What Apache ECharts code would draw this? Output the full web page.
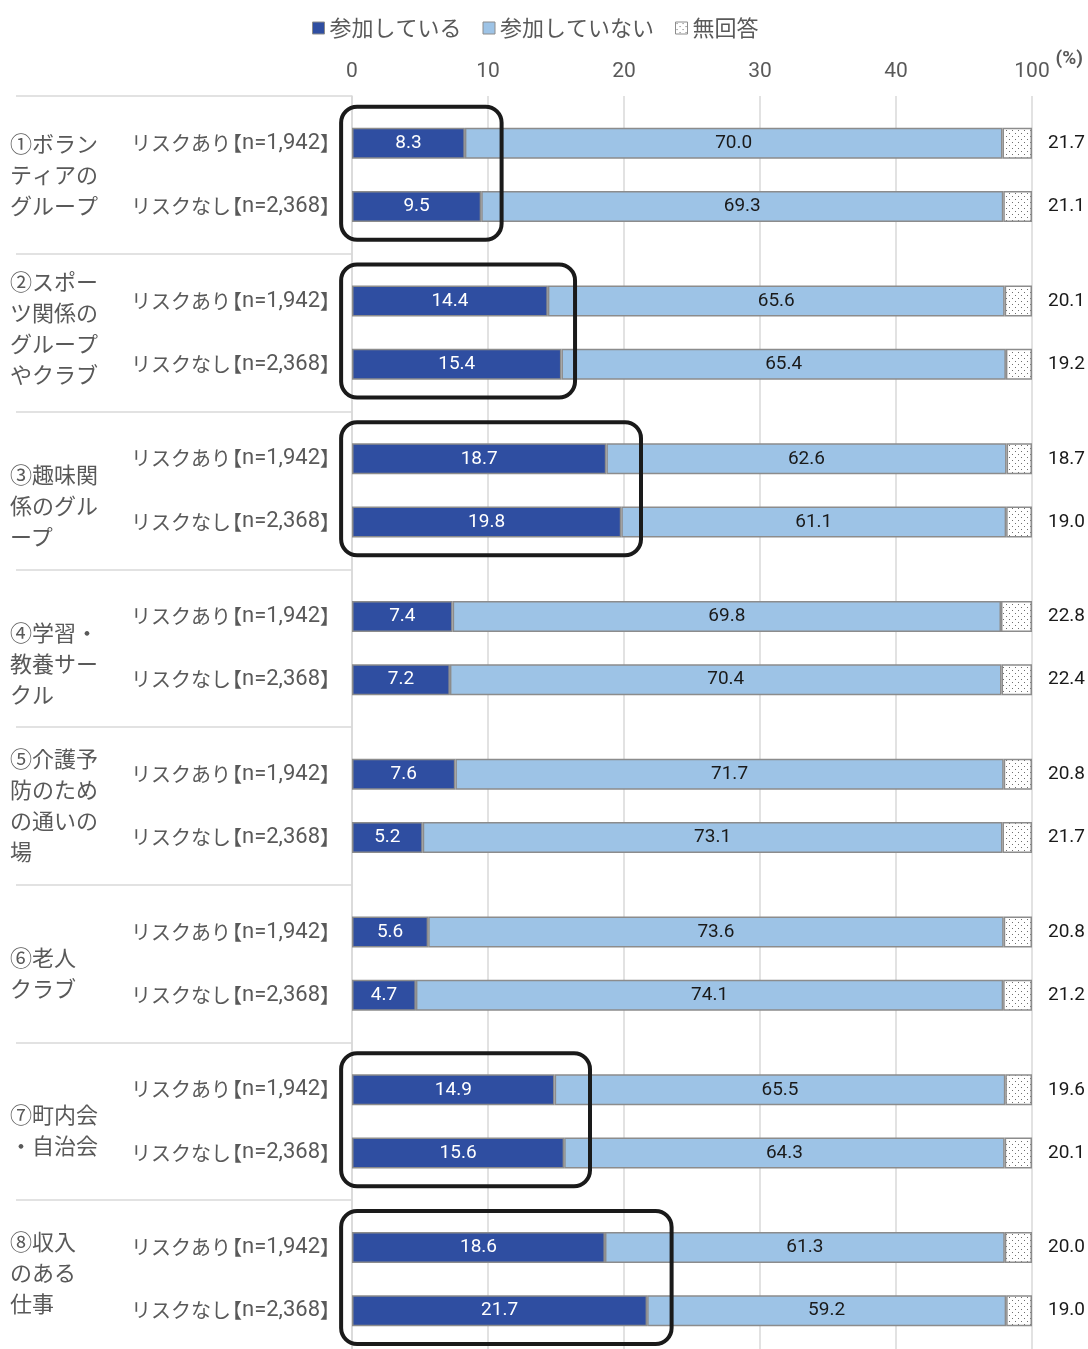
<!DOCTYPE html>
<html>
<head>
<meta charset="UTF-8">
<title>participation</title>
<script src="https://cdn.jsdelivr.net/npm/echarts@6/dist/echarts.min.js"></script>
<style>
	html, body { margin:0; padding:0; background:#fff; overflow:hidden; }
	#main { width:1088px; height:1362px; }
</style>
</head>
<body>
	<div id="main"></div>

	<script type="text/javascript">
		// 8 groups, each with two rows (リスクあり / リスクなし)
		var groupNames = [
			'①ボラン\nティアの\nグループ',
			'②スポー\nツ関係の\nグループ\nやクラブ',
			'③趣味関\n係のグル\nープ',
			'④学習・\n教養サー\nクル',
			'⑤介護予\n防のため\nの通いの\n場',
			'⑥老人\nクラブ',
			'⑦町内会\n・自治会',
			'⑧収入\nのある\n仕事'
		];
		var riskNames = ['リスクあり【n=1,942】', 'リスクなし【n=2,368】'];

		var joined    = [[8.3, 9.5], [14.4, 15.4], [18.7, 19.8], [7.4, 7.2], [7.6, 5.2], [5.6, 4.7], [14.9, 15.6], [18.6, 21.7]];
		var notJoined = [[70.0, 69.3], [65.6, 65.4], [62.6, 61.1], [69.8, 70.4], [71.7, 73.1], [73.6, 74.1], [65.5, 64.3], [61.3, 59.2]];
		var noAnswer  = [[21.7, 21.1], [20.1, 19.2], [18.7, 19.0], [22.8, 22.4], [20.8, 21.7], [20.8, 21.2], [19.6, 20.1], [20.0, 19.0]];

		var tickLabels = ['0', '10', '20', '30', '40', '100'];
		var boxedGroups = [0, 1, 2, 6, 7];

		var legendNames = ['参加している', '参加していない', '無回答'];

		window.onload = iniPage;

		function iniPage(){
			drawChart();
		}

		function dotPattern(){
			var c = document.createElement('canvas');
			c.width = 6; c.height = 6;
			var ctx = c.getContext('2d');
			ctx.fillStyle = '#ffffff';
			ctx.fillRect(0, 0, 6, 6);
			ctx.fillStyle = '#6e6e6e';
			ctx.fillRect(1, 1, 1, 1);
			ctx.fillRect(4, 4, 1, 1);
			return c;
		}

		function drawChart(){
			var myChart = echarts.init(document.getElementById('main'));

			// 5 slots per group: gap, row1, middle, row2, gap
			var cats = [], subLabel = {};
			var s1 = [], s2 = [], s3 = [];
			for(var g=0; g<groupNames.length; g++){
				for(var k=0; k<5; k++){
					var idx = g*5 + k;
					cats.push('c' + idx);
					var r = k === 1 ? 0 : (k === 3 ? 1 : -1);
					if(r >= 0){
						subLabel[idx] = riskNames[r];
						// the right part of the axis is compressed: 無回答 is drawn at 1/10
						var na = noAnswer[g][r] / 10;
						s1.push(joined[g][r]);
						s2.push({value: 50 - joined[g][r] - na, real: notJoined[g][r]});
						s3.push({value: na, real: noAnswer[g][r]});
					} else {
						s1.push('-'); s2.push('-'); s3.push('-');
					}
				}
			}

			// group names sit a little off the group centre in the original
			var nameNudge = [0, -0.03, 0.095, 0.1, -0.007, 0.06, 0.054, -0.038];
			var namePos = groupNames.map(function(n, g){ return g + 0.5 + nameNudge[g]; });

			// right edge of the hand drawn boxes (axis units)
			var boxEdge = [11.0, 16.4, 21.25, 17.5, 23.5];
			var boxes = boxedGroups.map(function(g, i){ return [boxEdge[i], g*5 + 1]; });

			var jp = '"Noto Sans CJK JP", sans-serif';
			var num = 'Roboto, "Liberation Sans", sans-serif';
			var border = {borderColor: '#8c8c8c', borderWidth: 1.5};

			var option = {
				backgroundColor: '#ffffff',
				animation: false,
				legend: {
					data: legendNames,
					top: 12,
					left: 307,
					itemWidth: 12,
					itemHeight: 12,
					itemGap: 21,
					icon: 'rect',
					itemStyle: {borderColor: '#8c8c8c', borderWidth: 1},
					textStyle: {fontFamily: jp, fontSize: 22, color: '#595959'}
				},
				grid: {left: 352, top: 96, width: 680, height: 1262},
				xAxis: {
					type: 'value',
					position: 'top',
					min: 0, max: 50, interval: 10,
					axisLine: {show: false},
					axisTick: {show: false},
					axisLabel: {
						margin: 14,
						fontFamily: num, fontSize: 21, color: '#595959',
						formatter: function(v){ return tickLabels[v/10]; }
					},
					splitLine: {show: true, lineStyle: {color: '#d9d9d9', width: 1.5}},
					name: '(%)',
					nameLocation: 'end',
					nameGap: 17,
					nameTextStyle: {fontFamily: num, fontSize: 19, fontWeight: 'bold', color: '#595959', verticalAlign: 'bottom', padding: [0, 0, 27, 0]}
				},
				yAxis: [{
					type: 'category',
					inverse: true,
					data: cats,
					axisLine: {show: true, lineStyle: {color: '#d9d9d9', width: 1.5}},
					axisTick: {show: true, length: 336, interval: function(i){ return i % 5 === 0; }, lineStyle: {color: '#d9d9d9', width: 1.5}},
					axisLabel: {
						interval: 0, margin: 221, align: 'left',
						color: '#595959',
						formatter: function(v, i){
							var s = subLabel[i];
							if(!s) return '';
							var m = s.match(/^(.*)【(.*)】$/);
							return '{t|' + m[1] + '}{lb|【}{n|' + m[2] + '}{rb|】}';
						},
						rich: {
							t:  {fontFamily: jp, fontSize: 20, color: '#595959', width: 91, align: 'left'},
							lb: {fontFamily: jp, fontSize: 20, color: '#595959', align: 'left'},
							n:  {fontFamily: num, fontSize: 22, color: '#595959', align: 'left'},
							rb: {fontFamily: jp, fontSize: 20, color: '#595959', width: 10, align: 'left'}
						}
					}
				}, {
					type: 'value',
					inverse: true,
					position: 'left',
					min: 0, max: 8,
					axisLine: {show: false},
					axisTick: {show: false},
					splitLine: {show: false},
					axisLabel: {
						customValues: namePos,
						margin: 342, align: 'left', lineHeight: 31,
						fontFamily: jp, fontSize: 22, color: '#595959',
						formatter: function(v){ return groupNames[Math.floor(v)] || ''; }
					}
				}],
				series: [{
					name: legendNames[0],
					type: 'bar',
					stack: 'all',
					barWidth: 31,
					data: s1,
					itemStyle: Object.assign({color: '#2f4ea1'}, border),
					label: {show: true, position: 'inside', color: '#ffffff', fontFamily: num, fontSize: 19,
						formatter: function(p){ return p.value.toFixed(1); }}
				}, {
					name: legendNames[1],
					type: 'bar',
					stack: 'all',
					barWidth: 31,
					data: s2,
					itemStyle: Object.assign({color: '#9dc3e6'}, border),
					label: {show: true, position: 'inside', color: '#1a1a1a', fontFamily: num, fontSize: 19,
						formatter: function(p){ return p.data.real.toFixed(1); }}
				}, {
					name: legendNames[2],
					type: 'bar',
					stack: 'all',
					barWidth: 31,
					data: s3,
					itemStyle: Object.assign({color: {image: dotPattern(), repeat: 'repeat'}}, border),
					label: {show: true, position: 'right', distance: 16, color: '#1a1a1a', fontFamily: num, fontSize: 19,
						formatter: function(p){ return p.data.real.toFixed(1); }}
				}, {
					type: 'custom',
					clip: false,
					silent: true,
					data: boxes,
					renderItem: function(params, api){
						var slot = api.size([0, 1])[1];
						var a = api.coord([-0.8, api.value(1)]);
						var b = api.coord([api.value(0), api.value(1) + 2]);
						return {
							type: 'rect',
							shape: {x: a[0], y: a[1] - slot*1.16, width: b[0] - a[0], height: b[1] - a[1] + slot*2.22, r: 16},
							style: {fill: 'none', stroke: '#1a1a1a', lineWidth: 4}
						};
					},
					z: 10
				}]
			};

			myChart.setOption(option);
		}
	</script>
</body>
</html>
